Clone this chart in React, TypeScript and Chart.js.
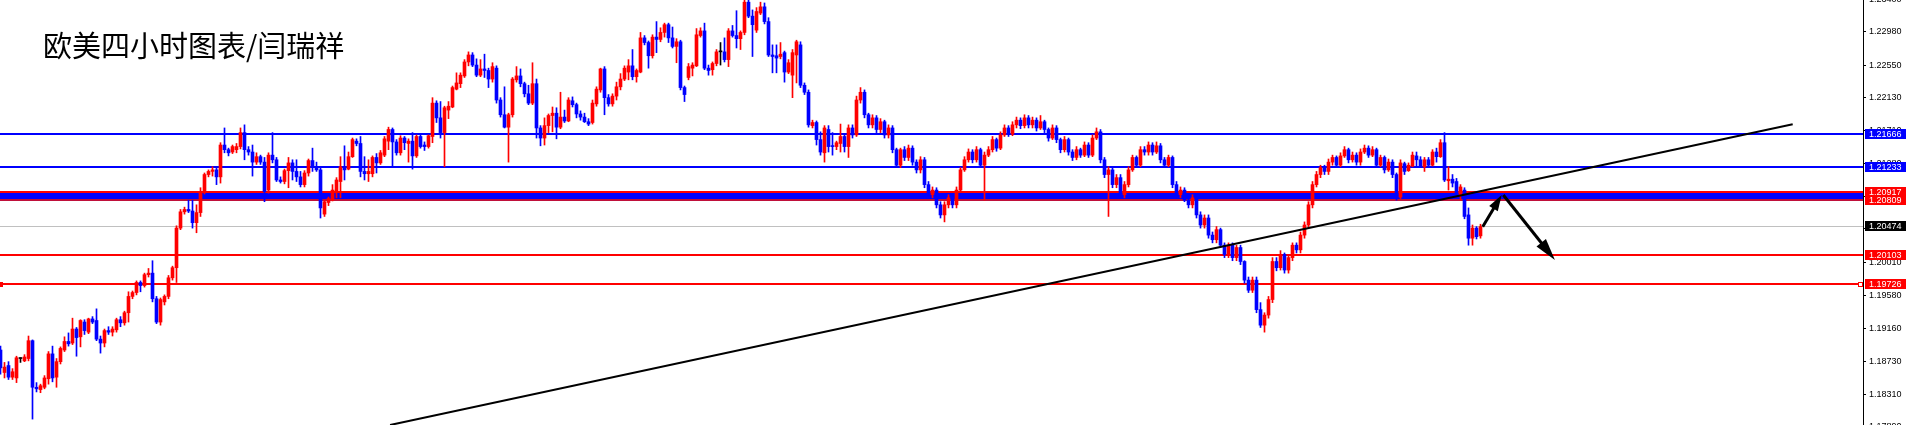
import React, { useEffect, useRef } from "react";
import { Chart, registerables } from "chart.js";

Chart.register(...registerables);

const TITLE = "欧美四小时图表/闫瑞祥";

// EURUSD H4 candles (index 0 = leftmost visible bar)
const opens: number[] = [
  1.1888,1.1859,1.1868,1.1853,1.1852,1.1877,1.1874,1.1877,1.1900,1.1840,
  1.1837,1.1840,1.1851,1.1883,1.1853,1.1873,1.1888,1.1899,1.1897,1.1915,
  1.1905,1.1924,1.1911,1.1928,1.1926,1.1902,1.1897,1.1913,1.1911,1.1914,
  1.1927,1.1923,1.1936,1.1957,1.1962,1.1975,1.1971,1.1985,1.1987,1.1954,
  1.1924,1.1950,1.1957,1.1981,1.1994,1.2045,1.2066,1.2069,1.2067,1.2052,
  1.2065,1.2092,1.2114,1.2118,1.2120,1.2111,1.2152,1.2146,1.2143,1.2146,
  1.2150,1.2168,1.2146,1.2143,1.2130,1.2137,1.2130,1.2094,1.2139,1.2133,
  1.2107,1.2105,1.2119,1.2129,1.2118,1.2111,1.2101,1.2116,1.2132,1.2123,
  1.2120,1.2063,1.2078,1.2081,1.2092,1.2105,1.2124,1.2121,1.2137,1.2157,
  1.2154,1.2118,1.2115,1.2115,1.2136,1.2129,1.2139,1.2157,1.2172,1.2156,
  1.2142,1.2161,1.2154,1.2157,1.2138,1.2163,1.2152,1.2150,1.2163,1.2206,
  1.2187,1.2168,1.2197,1.2201,1.2224,1.2231,1.2241,1.2259,1.2268,1.2255,
  1.2242,1.2250,1.2248,1.2237,1.2251,1.2210,1.2191,1.2175,1.2191,1.2236,
  1.2241,1.2231,1.2218,1.2206,1.2231,1.2174,1.2161,1.2177,1.2190,1.2193,
  1.2175,1.2188,1.2183,1.2209,1.2204,1.2192,1.2188,1.2182,1.2181,1.2205,
  1.2223,1.2250,1.2213,1.2205,1.2215,1.2227,1.2237,1.2246,1.2254,1.2240,
  1.2246,1.2290,1.2284,1.2267,1.2291,1.2288,1.2297,1.2307,1.2290,1.2279,
  1.2285,1.2226,1.2239,1.2251,1.2254,1.2293,1.2299,1.2251,1.2249,1.2257,
  1.2272,1.2272,1.2262,1.2299,1.2293,1.2289,1.2297,1.2336,1.2318,1.2300,
  1.2322,1.2330,1.2311,1.2268,1.2267,1.2266,1.2271,1.2246,1.2242,1.2268,
  1.2281,1.2229,1.2220,1.2177,1.2181,1.2159,1.2142,1.2172,1.2151,1.2150,
  1.2154,1.2163,1.2150,1.2174,1.2165,1.2210,1.2220,1.2191,1.2178,1.2187,
  1.2172,1.2182,1.2165,1.2174,1.2146,1.2126,1.2146,1.2136,1.2148,1.2130,
  1.2120,1.2133,1.2101,1.2088,1.2094,1.2075,1.2062,1.2075,1.2084,1.2075,
  1.2094,1.2120,1.2133,1.2143,1.2133,1.2146,1.2126,1.2139,1.2146,1.2159,
  1.2148,1.2165,1.2174,1.2166,1.2178,1.2184,1.2177,1.2187,1.2178,1.2184,
  1.2174,1.2182,1.2172,1.2161,1.2174,1.2159,1.2146,1.2159,1.2143,1.2136,
  1.2146,1.2139,1.2152,1.2139,1.2161,1.2169,1.2133,1.2114,1.2120,1.2101,
  1.2110,1.2088,1.2101,1.2120,1.2136,1.2126,1.2146,1.2143,1.2152,1.2143,
  1.2151,1.2133,1.2126,1.2136,1.2101,1.2088,1.2094,1.2081,1.2075,1.2084,
  1.2062,1.2049,1.2058,1.2036,1.2030,1.2043,1.2023,1.2011,1.2023,1.2007,
  1.2020,1.2002,1.1978,1.1965,1.1978,1.1940,1.1920,1.1933,1.1953,1.2002,
  1.1994,1.2011,1.1991,1.2007,1.2023,1.2017,1.2036,1.2049,1.2075,1.2101,
  1.2114,1.2123,1.2118,1.2130,1.2136,1.2126,1.2138,1.2146,1.2133,1.2139,
  1.2130,1.2143,1.2148,1.2139,1.2146,1.2126,1.2136,1.2120,1.2130,1.2114,
  1.2085,1.2128,1.2119,1.2125,1.2138,1.2133,1.2124,1.2133,1.2126,1.2143,
  1.2137,1.2155,1.2106,1.2108,1.2105,1.2087,1.2094,1.2062,1.2032,1.2045,
  1.2035,
];

const highs: number[] = [
  1.1893,1.1872,1.1873,1.1864,1.1880,1.1878,1.1882,1.1906,1.1901,1.1846,
  1.1844,1.1855,1.1886,1.1893,1.1877,1.1892,1.1905,1.1910,1.1929,1.1917,
  1.1927,1.1927,1.1929,1.1931,1.1941,1.1906,1.1915,1.1918,1.1918,1.1929,
  1.1931,1.1938,1.1963,1.1964,1.1977,1.1977,1.1987,1.1993,1.2003,1.1957,
  1.1955,1.1959,1.1984,1.1996,1.2048,1.2069,1.2072,1.2081,1.2081,1.2075,
  1.2097,1.2116,1.2120,1.2124,1.2123,1.2155,1.2174,1.2148,1.2152,1.2154,
  1.2174,1.2178,1.2150,1.2152,1.2142,1.2139,1.2136,1.2142,1.2168,1.2136,
  1.2111,1.2121,1.2136,1.2133,1.2133,1.2118,1.2119,1.2134,1.2148,1.2130,
  1.2123,1.2081,1.2085,1.2101,1.2110,1.2137,1.2151,1.2143,1.2161,1.2160,
  1.2163,1.2137,1.2133,1.2138,1.2141,1.2145,1.2163,1.2175,1.2174,1.2159,
  1.2164,1.2163,1.2160,1.2168,1.2165,1.2165,1.2156,1.2165,1.2213,1.2209,
  1.2208,1.2202,1.2208,1.2228,1.2245,1.2245,1.2262,1.2272,1.2271,1.2263,
  1.2262,1.2269,1.2251,1.2258,1.2254,1.2213,1.2227,1.2193,1.2239,1.2253,
  1.2250,1.2233,1.2229,1.2258,1.2237,1.2177,1.2187,1.2192,1.2201,1.2200,
  1.2220,1.2197,1.2213,1.2214,1.2206,1.2196,1.2193,1.2186,1.2210,1.2227,
  1.2251,1.2253,1.2217,1.2218,1.2233,1.2244,1.2254,1.2262,1.2275,1.2250,
  1.2297,1.2293,1.2286,1.2294,1.2311,1.2303,1.2309,1.2309,1.2304,1.2289,
  1.2287,1.2228,1.2257,1.2258,1.2302,1.2303,1.2309,1.2255,1.2259,1.2275,
  1.2284,1.2290,1.2302,1.2306,1.2325,1.2299,1.2339,1.2343,1.2326,1.2329,
  1.2336,1.2335,1.2316,1.2281,1.2281,1.2284,1.2273,1.2262,1.2275,1.2287,
  1.2285,1.2232,1.2223,1.2184,1.2183,1.2169,1.2177,1.2177,1.2168,1.2157,
  1.2179,1.2166,1.2178,1.2178,1.2215,1.2226,1.2223,1.2193,1.2191,1.2190,
  1.2186,1.2184,1.2178,1.2177,1.2148,1.2148,1.2150,1.2152,1.2151,1.2133,
  1.2137,1.2136,1.2105,1.2098,1.2097,1.2079,1.2079,1.2088,1.2088,1.2098,
  1.2123,1.2137,1.2147,1.2146,1.2150,1.2148,1.2143,1.2150,1.2163,1.2161,
  1.2169,1.2178,1.2177,1.2182,1.2188,1.2187,1.2191,1.2190,1.2188,1.2187,
  1.2190,1.2184,1.2174,1.2178,1.2177,1.2161,1.2163,1.2161,1.2146,1.2150,
  1.2148,1.2156,1.2155,1.2165,1.2174,1.2172,1.2136,1.2124,1.2123,1.2114,
  1.2114,1.2105,1.2124,1.2139,1.2138,1.2150,1.2150,1.2156,1.2155,1.2156,
  1.2154,1.2136,1.2139,1.2138,1.2105,1.2098,1.2097,1.2085,1.2088,1.2088,
  1.2066,1.2062,1.2062,1.2040,1.2047,1.2045,1.2026,1.2026,1.2026,1.2023,
  1.2023,1.2003,1.1982,1.1982,1.1982,1.1949,1.1936,1.1957,1.2007,1.2007,
  1.2016,1.2013,1.2011,1.2026,1.2026,1.2040,1.2053,1.2079,1.2105,1.2118,
  1.2126,1.2126,1.2134,1.2139,1.2138,1.2142,1.2150,1.2148,1.2143,1.2142,
  1.2147,1.2152,1.2151,1.2150,1.2148,1.2139,1.2138,1.2134,1.2133,1.2116,
  1.2133,1.2130,1.2129,1.2143,1.2143,1.2137,1.2136,1.2136,1.2146,1.2148,
  1.2159,1.2168,1.2124,1.2114,1.2109,1.2101,1.2097,1.2071,1.2049,1.2047,
  1.2050,
];

const lows: number[] = [
  1.1857,1.1852,1.1850,1.1850,1.1846,1.1872,1.1873,1.1874,1.1799,1.1834,
  1.1833,1.1838,1.1844,1.1847,1.1840,1.1870,1.1886,1.1893,1.1895,1.1880,
  1.1892,1.1908,1.1909,1.1922,1.1900,1.1884,1.1892,1.1908,1.1906,1.1911,
  1.1918,1.1920,1.1924,1.1954,1.1959,1.1963,1.1969,1.1982,1.1950,1.1922,
  1.1920,1.1946,1.1954,1.1978,1.1975,1.2043,1.2063,1.2065,1.2045,1.2039,
  1.2060,1.2089,1.2111,1.2112,1.2101,1.2103,1.2142,1.2138,1.2141,1.2142,
  1.2147,1.2133,1.2139,1.2112,1.2127,1.2127,1.2079,1.2090,1.2129,1.2105,
  1.2103,1.2102,1.2097,1.2107,1.2105,1.2098,1.2098,1.2112,1.2118,1.2118,
  1.2058,1.2060,1.2074,1.2080,1.2084,1.2084,1.2107,1.2120,1.2136,1.2151,
  1.2111,1.2107,1.2105,1.2111,1.2116,1.2127,1.2137,1.2146,1.2123,1.2139,
  1.2139,1.2146,1.2130,1.2121,1.2136,1.2148,1.2145,1.2148,1.2155,1.2181,
  1.2161,1.2124,1.2186,1.2200,1.2223,1.2226,1.2239,1.2254,1.2253,1.2240,
  1.2240,1.2239,1.2226,1.2233,1.2206,1.2188,1.2174,1.2130,1.2188,1.2233,
  1.2227,1.2214,1.2204,1.2204,1.2161,1.2151,1.2152,1.2168,1.2169,1.2160,
  1.2173,1.2181,1.2182,1.2201,1.2187,1.2184,1.2181,1.2177,1.2179,1.2202,
  1.2220,1.2191,1.2202,1.2202,1.2210,1.2223,1.2235,1.2236,1.2236,1.2233,
  1.2245,1.2281,1.2251,1.2264,1.2271,1.2285,1.2291,1.2284,1.2277,1.2258,
  1.2223,1.2208,1.2236,1.2241,1.2253,1.2291,1.2249,1.2242,1.2242,1.2254,
  1.2255,1.2259,1.2253,1.2291,1.2277,1.2275,1.2294,1.2316,1.2266,1.2297,
  1.2320,1.2308,1.2266,1.2245,1.2245,1.2263,1.2233,1.2244,1.2213,1.2232,
  1.2226,1.2217,1.2175,1.2174,1.2152,1.2139,1.2130,1.2143,1.2139,1.2146,
  1.2143,1.2143,1.2136,1.2161,1.2163,1.2206,1.2187,1.2174,1.2174,1.2168,
  1.2168,1.2161,1.2161,1.2142,1.2123,1.2123,1.2132,1.2132,1.2126,1.2116,
  1.2116,1.2097,1.2084,1.2084,1.2071,1.2058,1.2053,1.2071,1.2071,1.2071,
  1.2092,1.2118,1.2130,1.2129,1.2130,1.2123,1.2081,1.2137,1.2143,1.2144,
  1.2146,1.2163,1.2163,1.2164,1.2174,1.2173,1.2174,1.2174,1.2174,1.2170,
  1.2172,1.2168,1.2157,1.2159,1.2155,1.2142,1.2143,1.2139,1.2132,1.2133,
  1.2136,1.2137,1.2136,1.2137,1.2159,1.2129,1.2110,1.2060,1.2097,1.2097,
  1.2084,1.2084,1.2098,1.2118,1.2123,1.2124,1.2139,1.2139,1.2139,1.2141,
  1.2129,1.2123,1.2124,1.2097,1.2084,1.2084,1.2079,1.2071,1.2071,1.2058,
  1.2045,1.2045,1.2032,1.2026,1.2026,1.2020,1.2007,1.2007,1.2003,1.2003,
  1.1998,1.1974,1.1962,1.1962,1.1936,1.1917,1.1911,1.1929,1.1949,1.1990,
  1.1991,1.1987,1.1987,1.2003,1.2013,1.2013,1.2032,1.2045,1.2071,1.2098,
  1.2110,1.2114,1.2114,1.2126,1.2123,1.2124,1.2136,1.2129,1.2130,1.2126,
  1.2126,1.2141,1.2136,1.2137,1.2123,1.2124,1.2116,1.2118,1.2110,1.2081,
  1.2083,1.2114,1.2118,1.2124,1.2123,1.2123,1.2118,1.2124,1.2125,1.2130,
  1.2136,1.2105,1.2094,1.2098,1.2085,1.2081,1.2057,1.2023,1.2023,1.2031,
  1.2032,
];

const closes: number[] = [
  1.1865,1.1866,1.1853,1.1860,1.1878,1.1877,1.1879,1.1900,1.1840,1.1838,
  1.1842,1.1852,1.1883,1.1852,1.1873,1.1890,1.1899,1.1896,1.1915,1.1904,
  1.1926,1.1913,1.1928,1.1924,1.1902,1.1897,1.1913,1.1911,1.1915,1.1927,
  1.1923,1.1936,1.1957,1.1962,1.1975,1.1971,1.1985,1.1987,1.1954,1.1924,
  1.1953,1.1957,1.1981,1.1994,1.2045,1.2066,1.2069,1.2067,1.2052,1.2065,
  1.2092,1.2114,1.2118,1.2120,1.2111,1.2152,1.2146,1.2142,1.2150,1.2150,
  1.2168,1.2146,1.2143,1.2130,1.2137,1.2130,1.2092,1.2139,1.2133,1.2107,
  1.2105,1.2119,1.2129,1.2118,1.2111,1.2101,1.2116,1.2132,1.2123,1.2120,
  1.2071,1.2079,1.2083,1.2094,1.2107,1.2124,1.2120,1.2137,1.2159,1.2154,
  1.2118,1.2115,1.2118,1.2136,1.2129,1.2142,1.2160,1.2172,1.2156,1.2142,
  1.2161,1.2155,1.2157,1.2138,1.2163,1.2150,1.2150,1.2164,1.2206,1.2187,
  1.2168,1.2200,1.2202,1.2226,1.2232,1.2242,1.2259,1.2268,1.2255,1.2242,
  1.2250,1.2248,1.2237,1.2253,1.2210,1.2191,1.2175,1.2191,1.2237,1.2241,
  1.2231,1.2218,1.2206,1.2231,1.2174,1.2161,1.2177,1.2190,1.2193,1.2175,
  1.2188,1.2183,1.2210,1.2204,1.2192,1.2188,1.2182,1.2179,1.2206,1.2224,
  1.2250,1.2213,1.2205,1.2215,1.2227,1.2237,1.2251,1.2254,1.2240,1.2248,
  1.2290,1.2284,1.2267,1.2291,1.2288,1.2297,1.2307,1.2290,1.2279,1.2285,
  1.2226,1.2217,1.2253,1.2255,1.2294,1.2299,1.2251,1.2248,1.2257,1.2272,
  1.2272,1.2262,1.2299,1.2293,1.2289,1.2297,1.2336,1.2318,1.2307,1.2324,
  1.2330,1.2311,1.2268,1.2266,1.2264,1.2269,1.2246,1.2258,1.2271,1.2285,
  1.2229,1.2220,1.2178,1.2181,1.2159,1.2143,1.2174,1.2150,1.2150,1.2155,
  1.2163,1.2150,1.2174,1.2165,1.2210,1.2220,1.2191,1.2178,1.2187,1.2172,
  1.2182,1.2165,1.2174,1.2146,1.2126,1.2146,1.2136,1.2148,1.2130,1.2120,
  1.2133,1.2101,1.2088,1.2094,1.2075,1.2062,1.2075,1.2084,1.2075,1.2094,
  1.2120,1.2133,1.2143,1.2133,1.2146,1.2126,1.2139,1.2146,1.2159,1.2148,
  1.2165,1.2174,1.2166,1.2178,1.2184,1.2177,1.2187,1.2178,1.2184,1.2174,
  1.2182,1.2172,1.2161,1.2174,1.2159,1.2146,1.2159,1.2143,1.2136,1.2146,
  1.2139,1.2152,1.2139,1.2161,1.2169,1.2133,1.2114,1.2120,1.2101,1.2110,
  1.2088,1.2101,1.2120,1.2136,1.2126,1.2146,1.2143,1.2152,1.2143,1.2151,
  1.2133,1.2126,1.2136,1.2101,1.2088,1.2094,1.2081,1.2075,1.2084,1.2062,
  1.2049,1.2058,1.2036,1.2030,1.2043,1.2023,1.2011,1.2023,1.2007,1.2020,
  1.2002,1.1978,1.1965,1.1978,1.1940,1.1920,1.1933,1.1953,1.2002,1.1994,
  1.2011,1.1991,1.2007,1.2023,1.2017,1.2036,1.2049,1.2075,1.2101,1.2114,
  1.2123,1.2118,1.2130,1.2136,1.2126,1.2138,1.2146,1.2133,1.2139,1.2130,
  1.2143,1.2148,1.2139,1.2146,1.2126,1.2136,1.2120,1.2130,1.2114,1.2085,
  1.2129,1.2118,1.2126,1.2139,1.2133,1.2124,1.2133,1.2126,1.2143,1.2137,
  1.2155,1.2107,1.2108,1.2103,1.2090,1.2098,1.2060,1.2032,1.2045,1.2034,
  1.2047,
];

// right price axis tick labels
const priceTicks = [1.234, 1.2298, 1.2255, 1.2213, 1.2171, 1.2128, 1.2086, 1.2044, 1.2001, 1.1958, 1.1916, 1.1873, 1.1831, 1.1789];

// horizontal levels
const blueLevels = [1.21666, 1.21233];
const bandLevels = [1.20917, 1.20809];
const redLevels = [1.20103, 1.19726];
const lastPrice = 1.20474;

// trend line (bar index, price)
const trendX = [97.4, 448.05];
const trendY = [1.17914, 1.21787];

// arrows (bar index, price)
const arrowStartX = [370.55, 375.7];
const arrowStartY = [1.20468, 1.20877];
const arrowEndX = [375.3, 388.6];
const arrowEndY = [1.20877, 1.2004];

const Y_MIN = 1.17914;
const Y_MAX = 1.23388;

// styles
const RED = "#ff0000";
const BLUE = "#0000ff";
const AXIS_W = 48;
const W = 1911;
const H = 425;
const BAR_PX = 4;
const ARROW_HEAD = [[16, 5], [22, 6]];

const candleColors = opens.map((o, i) => (closes[i] > o ? RED : closes[i] < o ? BLUE : "#000000"));

function drawArrow(ctx: CanvasRenderingContext2D, x1: number, y1: number, x2: number, y2: number, headLen: number, headHalf: number) {
  const ang = Math.atan2(y2 - y1, x2 - x1);
  const bx = x2 - headLen * Math.cos(ang);
  const by = y2 - headLen * Math.sin(ang);
  ctx.strokeStyle = "#000";
  ctx.lineWidth = 3;
  ctx.beginPath();
  ctx.moveTo(x1, y1);
  ctx.lineTo(bx + 2 * Math.cos(ang), by + 2 * Math.sin(ang));
  ctx.stroke();
  ctx.fillStyle = "#000";
  ctx.beginPath();
  ctx.moveTo(x2, y2);
  ctx.lineTo(bx + headHalf * Math.sin(ang), by - headHalf * Math.cos(ang));
  ctx.lineTo(bx - headHalf * Math.sin(ang), by + headHalf * Math.cos(ang));
  ctx.closePath();
  ctx.fill();
}

const overlayPlugin = {
  id: "mtOverlay",
  beforeDraw(chart: any) {
    const { ctx } = chart;
    ctx.save();
    ctx.fillStyle = "#ffffff";
    ctx.fillRect(0, 0, chart.width, chart.height);
    ctx.restore();
  },
  beforeDatasetsDraw(chart: any) {
    const { ctx, chartArea } = chart;
    const ys = chart.scales.y;
    const L = chartArea.left;
    const Wd = chartArea.right - chartArea.left;
    const py = (v: number) => Math.round(ys.getPixelForValue(v));
    ctx.save();
    ctx.fillStyle = "#c0c0c0";
    ctx.fillRect(L, py(lastPrice), Wd, 1);
    ctx.fillStyle = BLUE;
    blueLevels.forEach((v) => ctx.fillRect(L, py(v) - 1, Wd, 2));
    const t = py(bandLevels[0]);
    const b = py(bandLevels[1]);
    ctx.fillStyle = BLUE;
    ctx.fillRect(L, t, Wd, b - t);
    ctx.fillStyle = RED;
    ctx.fillRect(L, t - 1, Wd, 2);
    ctx.fillStyle = "#c0103a";
    ctx.fillRect(L, b - 1, Wd, 2);
    ctx.fillStyle = RED;
    redLevels.forEach((v) => ctx.fillRect(L, py(v) - 1, Wd, 2));
    const yr = py(redLevels[1]);
    ctx.fillRect(L, yr - 2, 3, 5);
    ctx.fillRect(chartArea.right - 5, yr - 2, 5, 5);
    ctx.fillStyle = "#fff";
    ctx.fillRect(chartArea.right - 4, yr - 1, 3, 3);
    ctx.restore();
  },
  afterDatasetsDraw(chart: any) {
    const { ctx } = chart;
    const xs = chart.scales.x;
    const ys = chart.scales.y;
    ctx.save();
    for (let k = 0; k < arrowStartX.length; k++) {
      drawArrow(
        ctx,
        xs.getPixelForValue(arrowStartX[k]),
        ys.getPixelForValue(arrowStartY[k]),
        xs.getPixelForValue(arrowEndX[k]),
        ys.getPixelForValue(arrowEndY[k]),
        ARROW_HEAD[k][0],
        ARROW_HEAD[k][1]
      );
    }
    ctx.restore();
  },
  afterDraw(chart: any) {
    const { ctx, chartArea } = chart;
    const ys = chart.scales.y;
    const py = (v: number) => Math.round(ys.getPixelForValue(v));
    const bx = chartArea.right + 2;
    ctx.save();
    const boxes: [number, string][] = [
      [blueLevels[0], BLUE],
      [blueLevels[1], BLUE],
      [bandLevels[0], RED],
      [bandLevels[1], RED],
      [lastPrice, "#000000"],
      [redLevels[0], RED],
      [redLevels[1], RED],
    ];
    ctx.font = '9px "Liberation Sans", Arial, sans-serif';
    ctx.textAlign = "left";
    ctx.textBaseline = "middle";
    boxes.forEach(([v, c]) => {
      const y = py(v);
      ctx.fillStyle = c;
      ctx.fillRect(bx, y - 5, 41, 10);
    });
    boxes.forEach(([v]) => {
      const y = py(v);
      ctx.fillStyle = "#ffffff";
      ctx.fillText(v.toFixed(5), bx + 4, y + 0.5);
    });
    ctx.fillStyle = "#000";
    ctx.font = '29px "Noto Sans CJK SC", sans-serif';
    ctx.textBaseline = "middle";
    ctx.fillText(TITLE, 43, 46);
    ctx.restore();
  },
};

export default function App() {
  const ref = useRef<HTMLCanvasElement | null>(null);
  useEffect(() => {
    if (!ref.current) return;
    const plotW = W - AXIS_W;
    const xMin = -0.125;
    const xMax = xMin + plotW / BAR_PX;
    const chart = new Chart(ref.current, {
      type: "bar",
      data: {
        datasets: [
          {
            type: "line",
            data: trendX.map((x, k) => ({ x, y: trendY[k] })),
            borderColor: "#000000",
            borderWidth: 2,
            pointRadius: 0,
            fill: false,
            order: 1,
          } as any,
          {
            type: "bar",
            data: opens.map((o, i) => ({ x: i, y: [o, closes[i]] })),
            backgroundColor: candleColors,
            borderWidth: 0,
            barThickness: 3,
            minBarLength: 1,
            grouped: false,
            order: 2,
          } as any,
          {
            type: "bar",
            data: opens.map((_, i) => ({ x: i, y: [lows[i], highs[i]] })),
            backgroundColor: candleColors,
            borderWidth: 0,
            barThickness: 1,
            grouped: false,
            order: 3,
          } as any,
        ],
      },
      options: {
        animation: false,
        responsive: false,
        devicePixelRatio: 1,
        events: [],
        layout: { padding: 0 },
        plugins: { legend: { display: false }, tooltip: { enabled: false } },
        scales: {
          x: {
            type: "linear",
            min: xMin,
            max: xMax,
            offset: false,
            display: false,
            grid: { display: false },
          },
          y: {
            type: "linear",
            position: "right",
            min: Y_MIN,
            max: Y_MAX,
            grid: { display: true, drawOnChartArea: false, drawTicks: true, tickLength: 3, color: "#000000" },
            border: { display: true, color: "#000000", width: 1 },
            ticks: {
              autoSkip: false,
              padding: 3,
              color: "#000000",
              font: { family: '"Liberation Sans", Arial, sans-serif', size: 9 },
              callback: (v: any) => Number(v).toFixed(5),
            },
            afterBuildTicks: (s: any) => {
              s.ticks = priceTicks.map((v) => ({ value: v }));
            },
            afterFit: (s: any) => {
              s.width = AXIS_W;
              s.paddingTop = 0;
              s.paddingBottom = 0;
            },
          },
        },
      } as any,
      plugins: [overlayPlugin],
    });
    return () => chart.destroy();
  }, []);
  return (
    <div style={{ position: "fixed", left: 0, top: 0, width: W, height: H, background: "#fff" }}>
      <canvas ref={ref} width={W} height={H} style={{ display: "block", width: W, height: H }} />
    </div>
  );
}
